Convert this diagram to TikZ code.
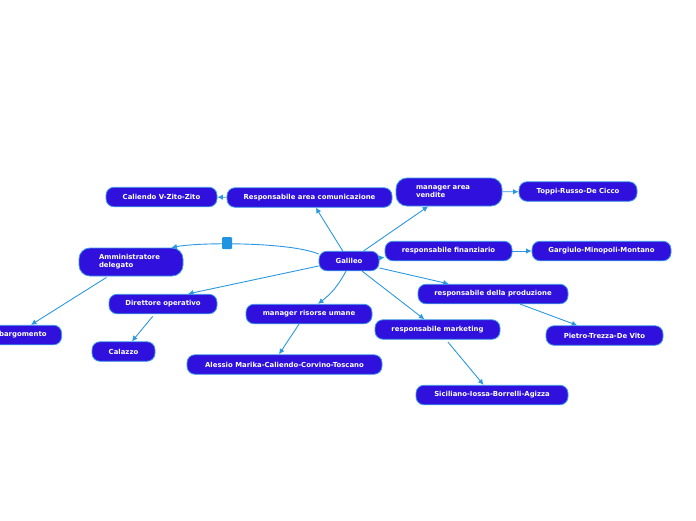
\documentclass[tikz,border=0pt]{standalone}
\usepackage{fontspec}
\setmainfont{DejaVu Sans}
\usetikzlibrary{arrows.meta,calc}
\definecolor{nodefill}{HTML}{3010DC}
\definecolor{nodeborder}{HTML}{3A9BE8}
\definecolor{linec}{HTML}{2A98E0}
\definecolor{handlec}{HTML}{2094E0}
\begin{document}
\begin{tikzpicture}[x=1pt,y=-1pt,
  box/.style={draw=nodeborder, fill=nodefill, line width=0.8pt, rounded corners=8pt,
    text=white, font=\fontsize{6.9}{8}\selectfont\bfseries, inner xsep=0pt, inner ysep=0pt,
    minimum height=19.5pt},
  twobox/.style={box, align=left, inner xsep=20pt, minimum height=28pt, rounded corners=11pt},
  conn/.style={draw=linec, line width=0.9pt, -{Latex[length=5.5pt,width=5.5pt]}},
  sq/.style={fill=handlec, rounded corners=1pt, minimum width=10pt, minimum height=12pt, inner sep=0pt}
]
\useasboundingbox (0,0) rectangle (696,520);
\clip (0,0) rectangle (696,520);
% nodes
\node[box, minimum width=60pt] (gal) at (349,261) {Galileo};
\node[box, minimum width=165pt] (com) at (309.5,197.5) {Responsabile area comunicazione};
\node[twobox, text width=66pt] (ven) at (449,192) {manager area\\vendite};
\node[box, minimum width=118pt] (top) at (578,191.5) {Toppi-Russo-De Cicco};
\node[box, minimum width=111pt] (cal) at (161.5,197) {Caliendo V-Zito-Zito};
\node[box, minimum width=127pt] (fin) at (448.5,251) {responsabile finanziario};
\node[box, minimum width=139pt] (gar) at (601.5,251) {Gargiulo-Minopoli-Montano};
\node[twobox, text width=64pt] (adm) at (131,262) {Amministratore\\delegato};
\node[box, minimum width=108pt] (dir) at (163,304) {Direttore operativo};
\node[box, anchor=east, inner xsep=15pt, minimum width=96pt, align=right, text width=66pt] (bar) at (62,335) {bargomento};
\node[box, minimum width=63pt] (clz) at (123.5,351.5) {Calazzo};
\node[box, minimum width=126pt] (hr) at (309,314) {manager risorse umane};
\node[box, minimum width=195pt] (ale) at (284.5,364.5) {Alessio Marika-Caliendo-Corvino-Toscano};
\node[box, minimum width=150pt] (pro) at (493,294) {responsabile della produzione};
\node[box, minimum width=125pt] (mkt) at (437.5,329.5) {responsabile marketing};
\node[box, minimum width=117pt] (pie) at (604.5,335.5) {Pietro-Trezza-De Vito};
\node[box, minimum width=152pt] (sic) at (492,395) {Siciliano-Iossa-Borrelli-Agizza};
% connectors
\draw[conn] (gal) -- (com);
\draw[conn] (gal) -- (ven);
\draw[conn] (gal) -- (fin);
\draw[conn] (gal) -- (pro);
\draw[conn] (gal) -- (mkt);
\draw[conn] ($(gal.west)+(0,5)$) -- ($(dir.north)+(25,0)$);
\draw[conn] ($(gal.south)+(-3,0)$) to[bend left=12] ($(hr.north)+(9,0)$);
\draw[conn] ($(gal.west)+(0,-7)$) .. controls (290,242) and (200,242) .. ($(adm.north east)+(-12,0)$);
\node[sq] (hdl) at (227,243) {};
\draw[conn] (com) -- (cal);
\draw[conn] (ven) -- (top);
\draw[conn] (fin) -- (gar);
\draw[conn, shorten <=2pt] (adm) -- ($(bar.north east)+(-31,0)$);
\draw[conn, shorten <=3pt] (dir) -- (clz);
\draw[conn] ($(hr.south)+(-10,0)$) -- ($(ale.north)+(-5.5,0)$);
\draw[conn, shorten <=3pt] (mkt) -- (sic);
\draw[conn] (pro) -- (pie);
\end{tikzpicture}
\end{document}
